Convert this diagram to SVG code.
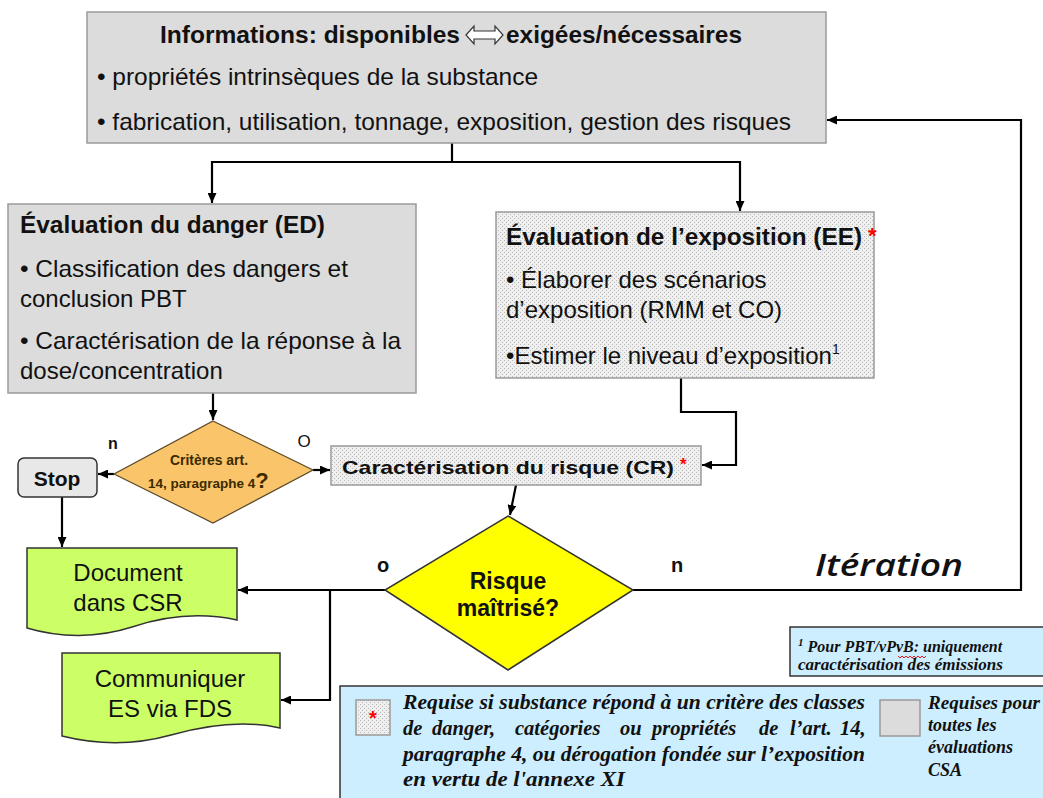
<svg xmlns="http://www.w3.org/2000/svg" width="1043" height="798" viewBox="0 0 1043 798">
<defs>
<pattern id="stip" width="4" height="4" patternUnits="userSpaceOnUse">
<rect width="4" height="4" fill="#EFEFEF"/>
<rect x="0" y="0" width="1" height="1" fill="#B8B8B8"/>
<rect x="2" y="2" width="1" height="1" fill="#B8B8B8"/>
</pattern>
<marker id="ah" markerUnits="userSpaceOnUse" markerWidth="10" markerHeight="9" refX="10" refY="4.5" orient="auto">
<path d="M0,0 L10,4.5 L0,9 z" fill="#000"/>
</marker>
<style>
.gray{fill:#DCDCDC;stroke:#9A9A9A;stroke-width:1.5}
.stip{fill:url(#stip);stroke:#9A9A9A;stroke-width:1.5}
.green{fill:#CCFF66;stroke:#333;stroke-width:1.5}
.blue{fill:#CCEEFF;stroke:#333;stroke-width:1.5}
.sans{font-family:"Liberation Sans",Arial,sans-serif;fill:#111}
.b{font-weight:bold}
.brown{fill:#3B2B00}
.serif{font-family:"Liberation Serif","Times New Roman",serif;font-style:italic;font-weight:bold;fill:#111}
.red{fill:#FF0000}
.con{fill:none;stroke:#000;stroke-width:2.2}
.arr{marker-end:url(#ah)}
</style>
</defs>

<g id="connectors">
<path class="con" d="M452,143 V162"/>
<path class="con arr" d="M452,162 H212 V203"/>
<path class="con arr" d="M452,162 H740 V211"/>
<path class="con arr" d="M213,393 V420"/>
<path class="con arr" d="M114,474 H98"/>
<path class="con arr" d="M313,470 H330"/>
<path class="con arr" d="M62,497 V547"/>
<path class="con arr" d="M681,378 V412 H736 V465 H702"/>
<path class="con arr" d="M516,485 L510,515"/>
<path class="con arr" d="M385,590 H238"/>
<path class="con arr" d="M330,590 V700 H281"/>
<path class="con arr" d="M633,590 H1021 V120 H827"/>
</g>

<g id="node-info">
<rect class="gray" x="87" y="12" width="739" height="131"/>
<text class="sans b" x="160" y="43" font-size="24" textLength="300" lengthAdjust="spacingAndGlyphs">Informations: disponibles</text>
<path d="M466,35 L474,26 L474,31 L495,31 L495,26 L503,35 L495,44 L495,39 L474,39 L474,44 Z" fill="#fff" stroke="#333" stroke-width="1.2"/>
<text class="sans b" x="506" y="43" font-size="24" textLength="236" lengthAdjust="spacingAndGlyphs">exigées/nécessaires</text>
<text class="sans" x="97" y="85" font-size="24" textLength="441" lengthAdjust="spacingAndGlyphs">• propriétés intrinsèques de la substance</text>
<text class="sans" x="97" y="130" font-size="24" textLength="694" lengthAdjust="spacingAndGlyphs">• fabrication, utilisation, tonnage, exposition, gestion des risques</text>
</g>

<g id="node-ed">
<rect class="gray" x="8" y="204" width="408" height="189"/>
<text class="sans b" x="20" y="233" font-size="24" textLength="305" lengthAdjust="spacingAndGlyphs">Évaluation du danger (ED)</text>
<text class="sans" x="20" y="277" font-size="24" textLength="328" lengthAdjust="spacingAndGlyphs">• Classification des dangers et</text>
<text class="sans" x="20" y="307" font-size="24">conclusion PBT</text>
<text class="sans" x="20" y="349" font-size="24" textLength="381" lengthAdjust="spacingAndGlyphs">• Caractérisation de la réponse à la</text>
<text class="sans" x="20" y="379" font-size="24">dose/concentration</text>
</g>

<g id="node-ee">
<rect class="stip" x="496" y="212" width="378" height="166"/>
<text class="sans b" x="506" y="245" font-size="24" textLength="356" lengthAdjust="spacingAndGlyphs">Évaluation de l’exposition (EE)</text>
<text class="sans b red" x="868" y="243" font-size="22">*</text>
<text class="sans" x="506" y="288" font-size="24">• Élaborer des scénarios</text>
<text class="sans" x="506" y="318" font-size="24">d’exposition (RMM et CO)</text>
<text class="sans" x="506" y="364" font-size="24">•Estimer le niveau d’exposition<tspan font-size="14" dy="-10">1</tspan></text>
</g>

<g id="node-criteres">
<path d="M213,421 L313,470 L213,523 L114,474 Z" fill="#FAC46A" stroke="#5A4A2A" stroke-width="1.2"/>
<text class="sans b brown" x="209" y="465" font-size="15" text-anchor="middle" textLength="78" lengthAdjust="spacingAndGlyphs">Critères art.</text>
<text class="sans b brown" x="148" y="488" font-size="13.5">14, paragraphe 4<tspan font-size="22">?</tspan></text>
</g>

<g id="node-stop">
<rect x="18" y="458" width="79" height="39" rx="6" fill="#E8E8E8" stroke="#333" stroke-width="1.5"/>
<text class="sans b" x="57" y="486" font-size="21" text-anchor="middle">Stop</text>
</g>

<g id="node-cr">
<rect class="stip" x="331" y="446" width="370" height="39"/>
<text class="sans b" x="342" y="474" font-size="19" textLength="332" lengthAdjust="spacingAndGlyphs">Caractérisation du risque (CR)</text>
<text class="sans b red" x="680" y="470" font-size="17">*</text>
</g>

<g id="node-risque">
<path d="M508,516 L633,590 L508,670 L385,590 Z" fill="#FFFF00" stroke="#333" stroke-width="1.5"/>
<text class="sans b" x="508" y="589" font-size="23" text-anchor="middle">Risque</text>
<text class="sans b" x="508" y="616" font-size="23" text-anchor="middle">maîtrisé?</text>
</g>

<g id="node-doc">
<path class="green" d="M27,548 H237 V620 C200,612 165,616 132,627 C98,638 60,638 27,628 Z"/>
<text class="sans" x="128" y="581" font-size="24" text-anchor="middle">Document</text>
<text class="sans" x="128" y="611" font-size="24" text-anchor="middle">dans CSR</text>
</g>

<g id="node-fds">
<path class="green" d="M62,653 H280 V728 C245,720 210,724 171,735 C135,745 98,745 62,736 Z"/>
<text class="sans" x="170" y="687" font-size="24" text-anchor="middle">Communiquer</text>
<text class="sans" x="170" y="717" font-size="24" text-anchor="middle">ES via FDS</text>
</g>

<g id="labels">
<text class="sans b" x="113" y="449" font-size="16" text-anchor="middle">n</text>
<text class="sans" x="304" y="447" font-size="17" text-anchor="middle">O</text>
<text class="sans b" x="383" y="572" font-size="20" text-anchor="middle">o</text>
<text class="sans b" x="677" y="572" font-size="20" text-anchor="middle">n</text>
<text x="815" y="576" font-family="'Open Sans','DejaVu Sans',sans-serif" font-style="italic" font-weight="600" font-size="30" fill="#111" textLength="148" lengthAdjust="spacingAndGlyphs">Itération</text>
</g>

<g id="legend-footnote">
<rect class="blue" x="790" y="627" width="260" height="49"/>
<text class="serif" x="798" y="652" font-size="16"><tspan font-size="11" dy="-6">1</tspan><tspan dy="6"> Pour PBT/vPvB: uniquement</tspan></text>
<path d="M898,656 l2,2 l2,-2 l2,2 l2,-2 l2,2 l2,-2 l2,2 l2,-2 l2,2 l2,-2 l2,2 l2,-2 l2,2 l2,-2" fill="none" stroke="#E00" stroke-width="0.9"/>
<text class="serif" x="798" y="670" font-size="16" textLength="205" lengthAdjust="spacingAndGlyphs">caractérisation des émissions</text>
</g>

<g id="legend-main">
<rect class="blue" x="340" y="686" width="710" height="120"/>
<rect class="stip" x="356" y="700" width="34" height="35"/>
<text x="373" y="725" font-family="'Liberation Sans',sans-serif" font-weight="bold" font-size="20" fill="#FF0000" text-anchor="middle">*</text>
<text class="serif" x="403" y="709" font-size="21" textLength="462" lengthAdjust="spacingAndGlyphs">Requise si substance répond à un critère des classes</text>
<text class="serif" y="735" font-size="20.5"><tspan x="403">de</tspan> <tspan x="432">danger,</tspan> <tspan x="515">catégories</tspan> <tspan x="620">ou</tspan> <tspan x="652">propriétés</tspan> <tspan x="759">de</tspan> <tspan x="790">l’art.</tspan> <tspan x="840">14,</tspan></text>
<text class="serif" x="403" y="761" font-size="21" textLength="462" lengthAdjust="spacingAndGlyphs">paragraphe 4, ou dérogation fondée sur l’exposition</text>
<text class="serif" x="403" y="786" font-size="21" textLength="222" lengthAdjust="spacingAndGlyphs">en vertu de l'annexe XI</text>
<rect x="880" y="700" width="40" height="36" fill="#DCDCDC" stroke="#9A9A9A" stroke-width="1.5"/>
<text class="serif" x="928" y="709" font-size="18" textLength="112" lengthAdjust="spacingAndGlyphs">Requises pour</text>
<text class="serif" x="928" y="731" font-size="18">toutes les</text>
<text class="serif" x="928" y="753" font-size="18">évaluations</text>
<text class="serif" x="928" y="776" font-size="18">CSA</text>
</g>
</svg>
